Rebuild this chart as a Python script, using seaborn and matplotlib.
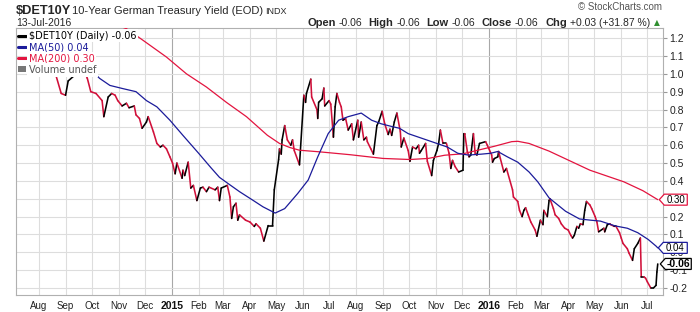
import matplotlib
matplotlib.use("Agg")
import numpy as np
import pandas as pd
import matplotlib.pyplot as plt
import matplotlib.dates as mdates
import matplotlib.transforms as mtrans
from matplotlib.collections import LineCollection
from matplotlib.lines import Line2D
from matplotlib.patches import Rectangle, Polygon
import seaborn as sns

# ---------------- data ----------------
price_dates = [
    "2014-08-01", "2014-08-07", "2014-08-13", "2014-08-21", "2014-08-27", "2014-09-01", "2014-09-04",
    "2014-09-11", "2014-09-15", "2014-09-18", "2014-09-22", "2014-09-26", "2014-09-30", "2014-10-06",
    "2014-10-13", "2014-10-15", "2014-10-20", "2014-10-24", "2014-10-28", "2014-10-31", "2014-11-05",
    "2014-11-10", "2014-11-13", "2014-11-19", "2014-11-21", "2014-11-25", "2014-11-28", "2014-12-03",
    "2014-12-05", "2014-12-11", "2014-12-15", "2014-12-19", "2014-12-22", "2014-12-26", "2014-12-30",
    "2015-01-02", "2015-01-05", "2015-01-07", "2015-01-13", "2015-01-14", "2015-01-16", "2015-01-20",
    "2015-01-23", "2015-01-26", "2015-01-30", "2015-02-03", "2015-02-06", "2015-02-10", "2015-02-13",
    "2015-02-20", "2015-02-23", "2015-02-25", "2015-02-27", "2015-03-06", "2015-03-09", "2015-03-11",
    "2015-03-13", "2015-03-16", "2015-03-18", "2015-03-20", "2015-03-27", "2015-04-01", "2015-04-06",
    "2015-04-08", "2015-04-13", "2015-04-17", "2015-04-22", "2015-04-27", "2015-04-29", "2015-05-04",
    "2015-05-05", "2015-05-07", "2015-05-08", "2015-05-11", "2015-05-14", "2015-05-18", "2015-05-20",
    "2015-05-22", "2015-05-28", "2015-06-02", "2015-06-04", "2015-06-05", "2015-06-10", "2015-06-11",
    "2015-06-17", "2015-06-18", "2015-06-19", "2015-06-23", "2015-06-25", "2015-06-26", "2015-07-01",
    "2015-07-03", "2015-07-06", "2015-07-08", "2015-07-10", "2015-07-13", "2015-07-15", "2015-07-17",
    "2015-07-20", "2015-07-23", "2015-07-27", "2015-07-29", "2015-08-03", "2015-08-04", "2015-08-07",
    "2015-08-10", "2015-08-13", "2015-08-14", "2015-08-18", "2015-08-21", "2015-08-25", "2015-08-27",
    "2015-08-31", "2015-09-03", "2015-09-07", "2015-09-09", "2015-09-11", "2015-09-14", "2015-09-17",
    "2015-09-21", "2015-09-22", "2015-09-25", "2015-09-30", "2015-10-02", "2015-10-05", "2015-10-09",
    "2015-10-12", "2015-10-13", "2015-10-15", "2015-10-20", "2015-10-22", "2015-10-27", "2015-10-29",
    "2015-11-02", "2015-11-04", "2015-11-06", "2015-11-09", "2015-11-13", "2015-11-16", "2015-11-18",
    "2015-11-20", "2015-11-23", "2015-11-27", "2015-12-02", "2015-12-03", "2015-12-04", "2015-12-07",
    "2015-12-09", "2015-12-11", "2015-12-14", "2015-12-16", "2015-12-18", "2015-12-21", "2015-12-28",
    "2015-12-30", "2016-01-04", "2016-01-05", "2016-01-07", "2016-01-11", "2016-01-12", "2016-01-14",
    "2016-01-18", "2016-01-21", "2016-01-28", "2016-01-29", "2016-02-03", "2016-02-05", "2016-02-08",
    "2016-02-10", "2016-02-12", "2016-02-15", "2016-02-18", "2016-02-23", "2016-02-25", "2016-02-29",
    "2016-03-03", "2016-03-04", "2016-03-08", "2016-03-10", "2016-03-11", "2016-03-15", "2016-03-17",
    "2016-03-21", "2016-03-24", "2016-03-28", "2016-04-01", "2016-04-04", "2016-04-06", "2016-04-08",
    "2016-04-11", "2016-04-13", "2016-04-15", "2016-04-18", "2016-04-20", "2016-04-22", "2016-04-26",
    "2016-04-28", "2016-05-02", "2016-05-04", "2016-05-06", "2016-05-12", "2016-05-13", "2016-05-16",
    "2016-05-19", "2016-05-20", "2016-05-24", "2016-05-26", "2016-05-30", "2016-06-01", "2016-06-03",
    "2016-06-08", "2016-06-10", "2016-06-14", "2016-06-16", "2016-06-20", "2016-06-23", "2016-06-24",
    "2016-06-27", "2016-06-29", "2016-07-01", "2016-07-05", "2016-07-08", "2016-07-11", "2016-07-12",
    "2016-07-13",
]
price_vals = [
    1.15, 1.06, 1.00, 0.99, 0.89, 0.88, 0.96,
    0.99, 1.05, 1.07, 1.02, 0.975, 0.90, 0.89,
    0.85, 0.76, 0.87, 0.89, 0.88, 0.85, 0.82,
    0.835, 0.81, 0.82, 0.77, 0.75, 0.695, 0.73,
    0.76, 0.675, 0.61, 0.59, 0.60, 0.58, 0.535,
    0.50, 0.44, 0.50, 0.415, 0.46, 0.43, 0.505,
    0.36, 0.375, 0.29, 0.36, 0.365, 0.34, 0.365,
    0.35, 0.365, 0.29, 0.36, 0.375, 0.31, 0.19,
    0.255, 0.275, 0.18, 0.21, 0.18, 0.17, 0.145,
    0.16, 0.135, 0.063, 0.15, 0.15, 0.35, 0.52,
    0.58, 0.55, 0.63, 0.71, 0.63, 0.60, 0.63,
    0.57, 0.49, 0.88, 0.84, 0.89, 0.97, 0.87,
    0.80, 0.75, 0.84, 0.86, 0.92, 0.82, 0.85,
    0.83, 0.645, 0.815, 0.89, 0.84, 0.815, 0.74,
    0.75, 0.685, 0.72, 0.63, 0.74, 0.645, 0.73,
    0.63, 0.645, 0.62, 0.58, 0.55, 0.71, 0.73,
    0.79, 0.72, 0.66, 0.69, 0.655, 0.73, 0.78,
    0.675, 0.59, 0.64, 0.57, 0.51, 0.59, 0.58,
    0.60, 0.555, 0.57, 0.61, 0.51, 0.43, 0.515,
    0.57, 0.61, 0.685, 0.61, 0.61, 0.555, 0.47,
    0.515, 0.48, 0.45, 0.46, 0.665, 0.665, 0.565,
    0.535, 0.545, 0.665, 0.555, 0.545, 0.61, 0.62,
    0.60, 0.545, 0.505, 0.525, 0.535, 0.565, 0.525,
    0.45, 0.47, 0.35, 0.31, 0.285, 0.235, 0.20,
    0.235, 0.25, 0.21, 0.17, 0.125, 0.09, 0.18,
    0.155, 0.235, 0.20, 0.29, 0.30, 0.245, 0.21,
    0.19, 0.16, 0.135, 0.125, 0.095, 0.08, 0.095,
    0.145, 0.135, 0.16, 0.155, 0.235, 0.285, 0.265,
    0.245, 0.20, 0.17, 0.115, 0.135, 0.115, 0.155,
    0.16, 0.155, 0.145, 0.145, 0.11, 0.08, 0.05,
    0.02, -0.005, -0.045, 0.02, 0.05, 0.08, -0.137,
    -0.137, -0.145, -0.165, -0.20, -0.20, -0.185, -0.11,
    -0.065,
]

ma50_dates = [
    "2014-09-15", "2014-10-01", "2014-10-10", "2014-10-22", "2014-11-06", "2014-11-21", "2014-12-03",
    "2014-12-15", "2014-12-30", "2015-01-14", "2015-02-01", "2015-02-15", "2015-02-25", "2015-03-07",
    "2015-03-20", "2015-04-05", "2015-04-16", "2015-04-30", "2015-05-11", "2015-05-26", "2015-06-07",
    "2015-06-18", "2015-06-30", "2015-07-12", "2015-07-23", "2015-08-07", "2015-08-19", "2015-08-30",
    "2015-09-11", "2015-09-20", "2015-09-30", "2015-10-15", "2015-10-30", "2015-11-14", "2015-11-26",
    "2015-12-08", "2015-12-23", "2016-01-03", "2016-01-11", "2016-01-22", "2016-02-03", "2016-02-16",
    "2016-02-26", "2016-03-10", "2016-03-29", "2016-04-14", "2016-04-27", "2016-05-08", "2016-05-25",
    "2016-06-08", "2016-06-20", "2016-07-02", "2016-07-11", "2016-07-13",
]
ma50_vals = [
    1.06, 1.02, 0.975, 0.935, 0.917, 0.90, 0.85,
    0.815, 0.74, 0.655, 0.555, 0.475, 0.42, 0.385,
    0.34, 0.29, 0.255, 0.22, 0.245, 0.33, 0.405,
    0.535, 0.665, 0.74, 0.76, 0.78, 0.74, 0.72,
    0.705, 0.695, 0.665, 0.64, 0.615, 0.59, 0.555,
    0.545, 0.55, 0.555, 0.565, 0.535, 0.505, 0.45,
    0.395, 0.305, 0.23, 0.187, 0.18, 0.175, 0.148,
    0.135, 0.11, 0.072, 0.035, 0.025,
]

ma200_dates = [
    "2014-10-15", "2014-11-10", "2014-11-29", "2014-12-26", "2015-01-18", "2015-02-10", "2015-03-05",
    "2015-03-28", "2015-04-21", "2015-05-05", "2015-05-17", "2015-05-28", "2015-06-20", "2015-07-25",
    "2015-09-01", "2015-10-02", "2015-10-23", "2015-11-11", "2015-12-02", "2015-12-19", "2016-01-07",
    "2016-01-27", "2016-02-03", "2016-02-16", "2016-03-10", "2016-04-26", "2016-06-04", "2016-06-26",
    "2016-07-13",
]
ma200_vals = [
    1.30, 1.253, 1.188, 1.094, 1.00, 0.926, 0.84,
    0.76, 0.656, 0.61, 0.587, 0.572, 0.563, 0.547,
    0.526, 0.52, 0.526, 0.544, 0.552, 0.572, 0.594,
    0.62, 0.622, 0.61, 0.567, 0.46, 0.395, 0.345,
    0.295,
]

tick_dates = [
    "2014-08-01", "2014-09-01", "2014-10-01", "2014-11-01", "2014-12-01", "2015-01-01",
    "2015-02-01", "2015-03-01", "2015-04-01", "2015-05-01", "2015-06-01", "2015-07-01",
    "2015-08-01", "2015-09-01", "2015-10-01", "2015-11-01", "2015-12-01", "2016-01-01",
    "2016-02-01", "2016-03-01", "2016-04-01", "2016-05-01", "2016-06-01", "2016-07-01",
]
tick_labels = [
    "Aug", "Sep", "Oct", "Nov", "Dec", "2015", "Feb", "Mar", "Apr", "May", "Jun", "Jul",
    "Aug", "Sep", "Oct", "Nov", "Dec", "2016", "Feb", "Mar", "Apr", "May", "Jun", "Jul",
]
y_ticks = [-0.2, -0.1, 0.0, 0.1, 0.2, 0.3, 0.4, 0.5, 0.6, 0.7, 0.8, 0.9, 1.0, 1.1, 1.2]

legend_labels = [r"\$DET10Y (Daily) -0.06", "MA(50) 0.04", "MA(200) 0.30", "Volume undef"]
tag_texts = ["0.30", "0.04", "-0.06"]

# ---------------- style ----------------
UP = "#000000"
DOWN = "#d1103a"
NAVY = "#1b1b9a"
RED = "#e3143f"
GRID = "#dddddd"

sns.set_theme(style="white")
plt.rcParams["font.family"] = ["Liberation Sans", "DejaVu Sans"]

W, H = 700, 312
fig = plt.figure(figsize=(7.0, 3.12), dpi=100, facecolor="white")
L, R, T, B = 16, 662.7, 28.3, 295
ax = fig.add_axes([L / W, 1 - B / H, (R - L) / W, (B - T) / H])
ax.set_facecolor("white")

# moving averages through seaborn
ma50 = pd.DataFrame({"date": pd.to_datetime(ma50_dates), "value": ma50_vals})
ma200 = pd.DataFrame({"date": pd.to_datetime(ma200_dates), "value": ma200_vals})
sns.lineplot(data=ma200, x="date", y="value", ax=ax, color=RED, lw=0.9, legend=False, zorder=4)
sns.lineplot(data=ma50, x="date", y="value", ax=ax, color=NAVY, lw=0.9, legend=False, zorder=4)

# price line, coloured by direction
px = mdates.date2num(pd.to_datetime(price_dates))
pv = np.asarray(price_vals, dtype=float)
pts = np.column_stack([px, pv])
segs = np.stack([pts[:-1], pts[1:]], axis=1)
cols = np.where(np.diff(pv) >= 0, UP, DOWN)
lc = LineCollection(segs, colors=cols, linewidths=1.15, capstyle="round", joinstyle="round", zorder=3)
ax.add_collection(lc)

ax.set_xlim(pd.Timestamp("2014-07-06"), pd.Timestamp("2016-07-18 16:00"))
ax.set_ylim(-0.239, 1.255)
ax.set_xlabel("")
ax.set_ylabel("")

# ticks
ax.set_xticks(pd.to_datetime(tick_dates))
ax.set_xticklabels(tick_labels)
ax.set_yticks(y_ticks)
# the 0.3 label sits fully under the MA(200) value tag in the reference
ax.set_yticklabels(["" if abs(v - 0.3) < 1e-9 else f"{v:.1f}" for v in y_ticks])
ax.yaxis.tick_right()
ax.tick_params(axis="y", which="major", right=True, left=False, length=3, width=0.8,
               color="#999999", pad=2, labelsize=7.5, labelcolor="#222222")
ax.tick_params(axis="x", which="major", length=0, pad=4, labelsize=7, labelcolor="#222222")
for lbl in ax.get_xticklabels():
    if lbl.get_text().isdigit():
        lbl.set_fontweight("bold")
        lbl.set_fontsize(7.5)
        lbl.set_color("#111111")

ax.grid(True, color=GRID, lw=0.8)
ax.set_axisbelow(True)
for i, tk in enumerate(ax.xaxis.get_major_ticks()):
    if tick_labels[i].isdigit():
        tk.gridline.set_color("#a8a8a8")

for s in ax.spines.values():
    s.set_color("#b0b0b0")
    s.set_linewidth(0.8)

# legend
handles = [Line2D([0], [0], color="black", lw=2.2),
           Line2D([0], [0], color=NAVY, lw=2.2),
           Line2D([0], [0], color=RED, lw=2.2),
           Rectangle((0, 0), 1, 1, fc="#777777", ec="none")]
leg = ax.legend(handles, legend_labels, loc="upper left", bbox_to_anchor=(0, 1.0),
                borderaxespad=0.1, frameon=False, prop={"family": "DejaVu Sans", "size": 7},
                handlelength=0.75, handleheight=0.55, handletextpad=0.3, labelspacing=0.14,
                borderpad=0.15, labelcolor=["black", NAVY, RED, "#555555"])
leg.set_zorder(10)
for t in leg.get_texts():
    t.set_bbox(dict(boxstyle="square,pad=0.18", fc="white", ec="none"))

# value tags at the right edge
last_x = px[-1]
tags = [(ma200_vals[-1], tag_texts[0], RED, "normal", 1.5, 23),
        (ma50_vals[-1], tag_texts[1], NAVY, "normal", 0.5, 24),
        (price_vals[-1], tag_texts[2], "black", "bold", 2.5, 26)]
for val, txt, col, wt, tip, w in tags:
    tr = fig.dpi_scale_trans + mtrans.ScaledTranslation(last_x, val, ax.transData)
    hh = 5.5
    verts = np.array([[tip, 0], [tip + 5, hh], [tip + 5 + w, hh], [tip + 5 + w, -hh], [tip + 5, -hh]]) / 100.0
    poly = Polygon(verts, closed=True, fc="white", ec=col, lw=0.9, transform=tr, clip_on=False, zorder=20)
    ax.add_patch(poly)
    ax.text((tip + 5 + w / 2) / 100.0, 0, txt, transform=tr, ha="center", va="center",
            fontsize=7.5 if wt == "bold" else 7, fontweight=wt, color="black", clip_on=False, zorder=21)

# header texts
def fpos(x, y):
    return x / W, 1 - y / H

fig.text(*fpos(16, 13.8), r"\$DET10Y", fontsize=9.2, fontweight="bold", va="baseline")
fig.text(*fpos(72.5, 13.8), "10-Year German Treasury Yield (EOD)", fontsize=8, va="baseline")
fig.text(*fpos(265, 13.8), "INDX", fontsize=6.5, va="baseline")
fig.text(*fpos(16, 26), "13-Jul-2016", fontsize=7.5, va="baseline")
fig.text(*fpos(662, 10), "\u00a9 StockCharts.com", fontsize=7, color="#555555", ha="right", va="baseline")

pieces = [("Open", "bold", 0), ("-0.06", "normal", 2.2), ("High", "bold", 4.6), ("-0.06", "normal", 2.2),
          ("Low", "bold", 4.6), ("-0.06", "normal", 2.2), ("Close", "bold", 4.6), ("-0.06", "normal", 2.2),
          ("Chg", "bold", 4.6), ("+0.03 (+31.87 %)", "normal", 2.2)]
prev = None
for s, wt, gap in pieces:
    size = 8 if wt == "bold" else 7.5
    if prev is None:
        prev = fig.text(*fpos(307, 26), s, fontsize=size, fontweight=wt, va="baseline")
    else:
        prev = ax.annotate(s, xy=(1, 0), xycoords=prev, xytext=(gap, 0), textcoords="offset points",
                           ha="left", va="bottom", fontsize=size, fontweight=wt)
ax.annotate("\u25b2", xy=(1, 0), xycoords=prev, xytext=(2.5, 1), textcoords="offset points",
            ha="left", va="bottom", fontsize=5.5, color="#2f8f2f", family=["DejaVu Sans"])

fig.savefig("out.png", dpi=100, facecolor="white")
